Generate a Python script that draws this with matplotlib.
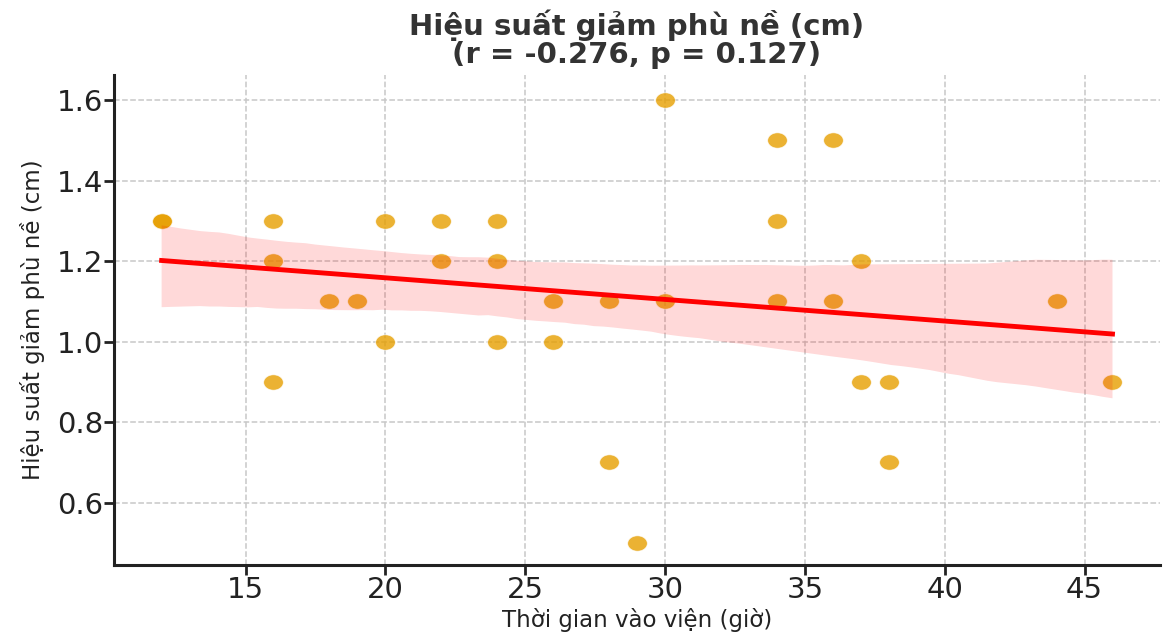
import matplotlib
matplotlib.use("Agg")
import matplotlib.pyplot as plt
import numpy as np
import pandas as pd
import seaborn as sns
from matplotlib.path import Path

# dữ liệu
thoi_gian = [12, 12, 16, 16, 16, 18, 19, 20, 20, 22, 22, 24, 24, 24, 26, 26,
             28, 28, 29, 30, 30, 34, 34, 34, 36, 36, 37, 37, 38, 38, 44, 46]
hieu_suat = [1.3, 1.3, 1.3, 1.2, 0.9, 1.1, 1.1, 1.3, 1.0, 1.3, 1.2, 1.3, 1.2, 1.0, 1.1, 1.0,
             1.1, 0.7, 0.5, 1.6, 1.1, 1.5, 1.3, 1.1, 1.5, 1.1, 1.2, 0.9, 0.9, 0.7, 1.1, 0.9]
x_ticks = [15, 20, 25, 30, 35, 40, 45]
y_ticks = [0.6, 0.8, 1.0, 1.2, 1.4, 1.6]

df = pd.DataFrame({"x": thoi_gian, "y": hieu_suat})

# marker hình elip (ảnh gốc bị kéo giãn ngang)
t = np.linspace(0, 2 * np.pi, 60)
ellipse = Path(np.column_stack([1.28 * np.cos(t), np.sin(t)]), closed=True)

fig = plt.figure(figsize=(11.64, 6.39), dpi=100)
ax = fig.add_axes([0.098, 0.1158, 0.8986, 0.7668])

sns.regplot(data=df, x="x", y="y", ax=ax, seed=0,
            marker=ellipse,
            scatter_kws={"color": "#E69F00", "alpha": 0.8, "s": 200,
                         "edgecolor": "white", "linewidths": 0.5},
            line_kws={"color": "red", "lw": 3.5})

# biên mặc định 5% của matplotlib
ax.set_xlim(10.3, 47.7)
ax.set_ylim(0.445, 1.662)
ax.set_xticks(x_ticks)
ax.set_yticks(y_ticks)
ax.set_yticklabels([f"{v:.1f}" for v in y_ticks])
ax.grid(True, linestyle="--", color="#c8c8c8", linewidth=1.1)
ax.set_axisbelow(True)

for s in ["top", "right"]:
    ax.spines[s].set_visible(False)
for s in ["left", "bottom"]:
    ax.spines[s].set_linewidth(2.2)
    ax.spines[s].set_color("#222222")
ax.tick_params(axis="both", labelsize=21, length=7, width=2, colors="#222222", pad=1)

ax.set_xlabel("Thời gian vào viện (giờ)", fontsize=16.5, color="#222222", labelpad=3)
ax.set_ylabel("Hiệu suất giảm phù nề (cm)", fontsize=16.5, color="#222222", labelpad=8)
ax.set_title("Hiệu suất giảm phù nề (cm)\n(r = -0.276, p = 0.127)",
             fontsize=21, fontweight="bold", color="#333333", pad=9, linespacing=1.0)

fig.savefig("out.png", dpi=100)
